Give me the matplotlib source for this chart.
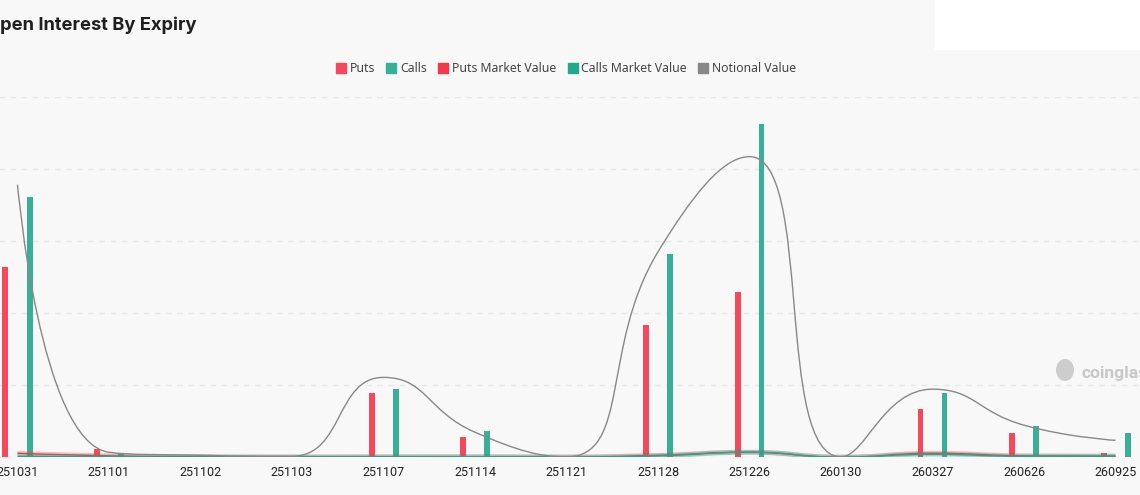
import numpy as np
import matplotlib
matplotlib.use('Agg')
import matplotlib.pyplot as plt
from matplotlib.path import Path
from matplotlib.patches import PathPatch, Rectangle, Ellipse
from matplotlib.lines import Line2D

expiries = ['251031', '251101', '251102', '251103', '251107', '251114', '251121',
            '251128', '251226', '260130', '260327', '260626', '260925']

puts = [13230, 560, 70, 0, 4440, 1410, 0, 9190, 11510, 0, 3340, 1670, 300]
calls = [18100, 230, 40, 0, 4730, 1810, 0, 14130, 23140, 0, 4460, 2180, 1720]
puts_mv = [280, 100, 40, 20, 30, 30, 20, 140, 350, 10, 280, 100, 70]
calls_mv = [70, 40, 30, 20, 30, 40, 20, 100, 350, 10, 210, 70, 100]
notional = [18930, 350, 140, 70, 5550, 1740, 30, 14270, 20880, 30, 4730, 2230, 1180]

BG = '#f8f8f8'
PUT_C = '#f5485a'
CALL_C = '#37b098'
PUT_MV_C = '#f3384a'
CALL_MV_C = '#22a98c'
NOTIONAL_C = '#888888'

W, H = 1140, 495


def smooth_path(ax, xs, ys, smooth=0.5):
    # echarts-style smoothing, computed in pixel space
    pts = ax.transData.transform(np.column_stack([xs, ys]))
    n = len(pts)
    verts = [tuple(pts[0])]
    codes = [Path.MOVETO]
    cp0 = pts[0].copy()
    for k in range(1, n):
        x, y = pts[k]
        px, py = pts[k - 1]
        if k == n - 1:
            cp1 = np.array([x, y])
            nxt = None
        else:
            nx, ny = pts[k + 1]
            vx, vy = nx - px, ny - py
            lp = np.hypot(x - px, y - py)
            ln = np.hypot(nx - x, ny - y)
            r = ln / (ln + lp)
            ncx = x + vx * smooth * r
            ncy = y + vy * smooth * r
            ncx = max(min(ncx, max(nx, x)), min(nx, x))
            ncy = max(min(ncy, max(ny, y)), min(ny, y))
            vx, vy = ncx - x, ncy - y
            c1x = x - vx * lp / ln
            c1y = y - vy * lp / ln
            c1x = max(min(c1x, max(px, x)), min(px, x))
            c1y = max(min(c1y, max(py, y)), min(py, y))
            vx, vy = x - c1x, y - c1y
            cp1 = np.array([c1x, c1y])
            nxt = np.array([x + vx * ln / lp, y + vy * ln / lp])
        verts += [tuple(cp0), tuple(cp1), (x, y)]
        codes += [Path.CURVE4] * 3
        if nxt is not None:
            cp0 = nxt
    data_verts = ax.transData.inverted().transform(np.array(verts))
    return Path(data_verts, codes)


fig = plt.figure(figsize=(W / 100, H / 100), dpi=100)
fig.patch.set_facecolor(BG)

left_px, right_px = 17.5 - 45.75, 17.5 + 91.5 * 12.5
top_px, base_px = 97.3, 457.3
ax = fig.add_axes([left_px / W, 1 - base_px / H,
                   (right_px - left_px) / W, (base_px - top_px) / H])
ax.set_facecolor(BG)
ax.set_xlim(-0.5, len(expiries) - 0.5)
ax.set_ylim(0, 25000)

x = np.arange(len(expiries))
bw = 6 / 91.5
off = 12 / 91.5
ax.bar(x - off, puts, width=bw, color=PUT_C, zorder=3)
ax.bar(x + off, calls, width=bw, color=CALL_C, zorder=3)

for vals, col, z in [(puts_mv, PUT_MV_C, 4), (calls_mv, CALL_MV_C, 4.1)]:
    p = smooth_path(ax, x, vals)
    ax.add_patch(PathPatch(p, facecolor='none', edgecolor=col, lw=3.5,
                           alpha=0.3, zorder=z))
    ax.add_patch(PathPatch(p, facecolor='none', edgecolor=col, lw=1.0, zorder=z))

p = smooth_path(ax, x, notional)
ax.add_patch(PathPatch(p, facecolor='none', edgecolor=NOTIONAL_C, lw=1.0, zorder=5))

ax.set_yticks(np.arange(0, 25001, 5000))
ax.set_yticklabels([])
ax.yaxis.grid(True, color='#e8e8e8', linestyle=(0, (4, 4)), lw=1)
ax.set_axisbelow(True)
ax.set_xticks(x)
ax.set_xticklabels(expiries, fontsize=9, color='#222222', family='Roboto')
ax.tick_params(axis='x', length=0, pad=6)
ax.tick_params(axis='y', length=0)
for s in ax.spines.values():
    s.set_visible(False)

# title, cut at the left edge like the source
fig.text(-14 / W, 1 - 30 / H, 'Open Interest By Expiry', fontsize=13.2,
         fontweight='bold', family='Inter', color='#1f1f1f', va='baseline')

# white block top right
fig.patches.append(Rectangle((935 / W, 1 - 50 / H), 205 / W, 50 / H,
                             transform=fig.transFigure, facecolor='white',
                             edgecolor='none', zorder=0))

handles = [Line2D([], [], marker='s', ls='none', markersize=7.5, color=c)
           for c in [PUT_C, CALL_C, PUT_MV_C, CALL_MV_C, NOTIONAL_C]]
labels = ['Puts', 'Calls', 'Puts Market Value', 'Calls Market Value', 'Notional Value']
fig.legend(handles, labels, loc='center', bbox_to_anchor=(566 / W, 1 - 69 / H),
           ncol=5, frameon=False, handlelength=0.8,
           handletextpad=0.3, columnspacing=0.95, labelcolor='#444444',
           prop={'family': 'Noto Sans', 'size': 8.8})

# watermark
fig.patches.append(Ellipse((1065 / W, 1 - 370 / H), 18 / W, 22 / H,
                           transform=fig.transFigure, facecolor='#cdcdcd',
                           edgecolor='none', zorder=1))
fig.text(1081 / W, 1 - 378 / H, 'coinglass', fontsize=12.5, fontweight='bold',
         family='Roboto', color='#c8c8c8', va='baseline')

fig.savefig('out.png', dpi=100, facecolor=BG)
